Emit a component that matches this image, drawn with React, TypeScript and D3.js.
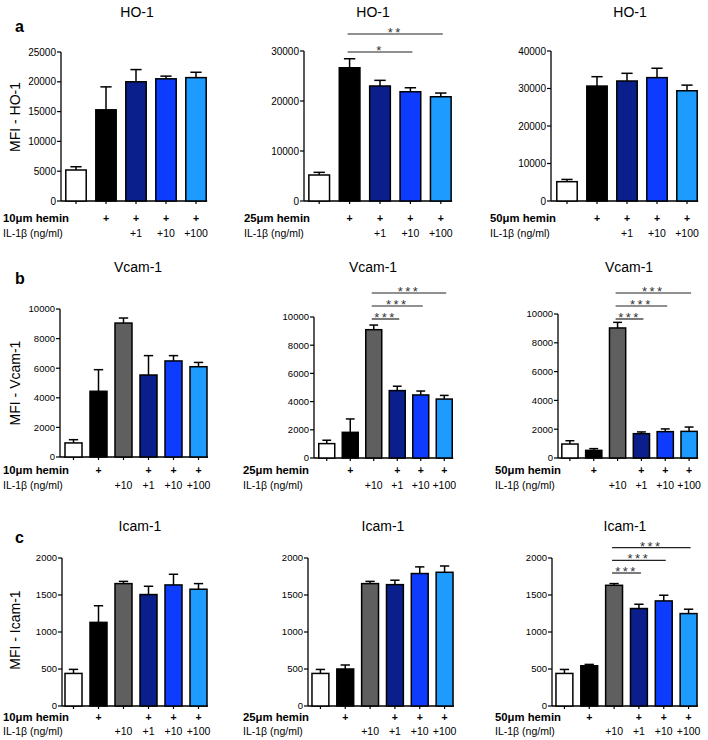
import React from "react";
import * as d3 from "d3";

const FONT = "'Liberation Sans', Arial, Helvetica, sans-serif";

// bar fills
const coloursA = ["#ffffff", "#000000", "#0b1f8c", "#0d3cff", "#1e9bff"];
const coloursBC = ["#ffffff", "#000000", "#5f5f5f", "#0b1f8c", "#0d3cff", "#1e9bff"];

// rows of "+" under the x axis
const heminRowA = ["", "+", "+", "+", "+"];
const ilRowA = ["", "", "+1", "+10", "+100"];
const heminRowBC = ["", "+", "", "+", "+", "+"];
const ilRowBC = ["", "", "+10", "+1", "+10", "+100"];

// HO-1 (mean, SEM)
const ho1_10 = [5200, 15300, 20000, 20500, 20700];
const ho1_10_err = [550, 3850, 2050, 450, 900];
const ho1_25 = [5200, 26650, 23000, 21850, 20850];
const ho1_25_err = [530, 1800, 1130, 800, 740];
const ho1_50 = [5150, 30650, 32000, 32900, 29400];
const ho1_50_err = [600, 2500, 2050, 2500, 1500];

// Vcam-1
const vcam_10 = [950, 4440, 9050, 5540, 6490, 6100];
const vcam_10_err = [220, 1460, 340, 1310, 360, 290];
const vcam_25 = [1020, 1820, 9100, 4780, 4470, 4180];
const vcam_25_err = [240, 950, 330, 310, 280, 260];
const vcam_50 = [970, 530, 9030, 1690, 1830, 1850];
const vcam_50_err = [230, 120, 390, 120, 190, 300];

// Icam-1
const icam_10 = [440, 1130, 1654, 1506, 1636, 1578];
const icam_10_err = [55, 225, 30, 112, 144, 76];
const icam_25 = [440, 500, 1654, 1640, 1790, 1807];
const icam_25_err = [54, 54, 30, 60, 90, 85];
const icam_50 = [440, 544, 1631, 1317, 1420, 1249];
const icam_50_err = [54, 18, 23, 58, 77, 59];

// significance brackets [from, to, stars]
const sigHo25 = [[1, 3, "*"], [1, 4, "**"]];
const sigThree = [[2, 3, "***"], [2, 4, "***"], [2, 5, "***"]];

const panels = [
  // row a
  { title: "HO-1", letter: "a", yLabel: "MFI - HO-1", hemin: "10μm hemin", values: ho1_10, errors: ho1_10_err,
    colours: coloursA, heminRow: heminRowA, ilRow: ilRowA, yMax: 25000, step: 5000, sig: [], tickSize: 10,
    lay: { axisX: 61, x0: 61, x1: 211, top: 52, base: 201, titleX: 137, titleY: 17, labelX: 3, heminY: 222, ilY: 237, letterY: 32, yLabelY: 117 } },
  { title: "HO-1", hemin: "25μm hemin", values: ho1_25, errors: ho1_25_err,
    colours: coloursA, heminRow: heminRowA, ilRow: ilRowA, yMax: 30000, step: 10000, sig: sigHo25, tickSize: 10,
    lay: { axisX: 304, x0: 304, x1: 456, top: 51, base: 201, titleX: 373, titleY: 17, labelX: 244, heminY: 222, ilY: 237, sigY: 52, sigStep: 18 } },
  { title: "HO-1", hemin: "50μm hemin", values: ho1_50, errors: ho1_50_err,
    colours: coloursA, heminRow: heminRowA, ilRow: ilRowA, yMax: 40000, step: 10000, sig: [], tickSize: 10,
    lay: { axisX: 551, x0: 552, x1: 702, top: 51, base: 201, titleX: 630, titleY: 17, labelX: 490, heminY: 222, ilY: 237 } },
  // row b
  { title: "Vcam-1", letter: "b", yLabel: "MFI - Vcam-1", hemin: "10μm hemin", values: vcam_10, errors: vcam_10_err,
    colours: coloursBC, heminRow: heminRowBC, ilRow: ilRowBC, yMax: 10000, step: 2000, sig: [], tickSize: 9.5,
    lay: { axisX: 60, x0: 61, x1: 211, top: 309, base: 457, titleX: 138, titleY: 272, labelX: 3, heminY: 474, ilY: 489, letterY: 284, yLabelY: 383 } },
  { title: "Vcam-1", hemin: "25μm hemin", values: vcam_25, errors: vcam_25_err,
    colours: coloursBC, heminRow: heminRowBC, ilRow: ilRowBC, yMax: 10000, step: 2000, sig: sigThree, tickSize: 9.5,
    lay: { axisX: 314, x0: 315, x1: 456, top: 317, base: 458, titleX: 373, titleY: 272, labelX: 243, heminY: 474, ilY: 489, sigY: 319, sigStep: 13 } },
  { title: "Vcam-1", hemin: "50μm hemin", values: vcam_50, errors: vcam_50_err,
    colours: coloursBC, heminRow: heminRowBC, ilRow: ilRowBC, yMax: 10000, step: 2000, sig: sigThree, tickSize: 9.5,
    lay: { axisX: 558, x0: 558, x1: 701, top: 314, base: 458, titleX: 629, titleY: 272, labelX: 495, heminY: 474, ilY: 489, sigY: 319, sigStep: 13 } },
  // row c
  { title: "Icam-1", letter: "c", yLabel: "MFI - Icam-1", hemin: "10μm hemin", values: icam_10, errors: icam_10_err,
    colours: coloursBC, heminRow: heminRowBC, ilRow: ilRowBC, yMax: 2000, step: 500, sig: [], tickSize: 9.5,
    lay: { axisX: 62, x0: 61, x1: 211, top: 558, base: 706, titleX: 140, titleY: 531, labelX: 3, heminY: 721, ilY: 735, letterY: 543, yLabelY: 630 } },
  { title: "Icam-1", hemin: "25μm hemin", values: icam_25, errors: icam_25_err,
    colours: coloursBC, heminRow: heminRowBC, ilRow: ilRowBC, yMax: 2000, step: 500, sig: [], tickSize: 9.5,
    lay: { axisX: 308, x0: 308, x1: 457, top: 558, base: 706, titleX: 383, titleY: 531, labelX: 243, heminY: 721, ilY: 735 } },
  { title: "Icam-1", hemin: "50μm hemin", values: icam_50, errors: icam_50_err,
    colours: coloursBC, heminRow: heminRowBC, ilRow: ilRowBC, yMax: 2000, step: 500, sig: sigThree, tickSize: 9.5,
    lay: { axisX: 552, x0: 552, x1: 701, top: 558, base: 706, titleX: 625, titleY: 531, labelX: 495, heminY: 721, ilY: 735, sigY: 573, sigStep: 12.7 } },
];

function Panel({ p }: { p: any }) {
  const L = p.lay;
  const n = p.values.length;
  const y = d3.scaleLinear().domain([0, p.yMax]).range([L.base, L.top]);
  const x = d3.scaleBand<number>().domain(d3.range(n)).range([L.x0, L.x1]).paddingInner(0.32).paddingOuter(0.16);
  const bw = x.bandwidth();
  const cx = (i: number) => (x(i) as number) + bw / 2;
  const ticks = d3.range(0, p.yMax + 1, p.step);
  const cap = bw * 0.55;
  const lastEnd = (x(n - 1) as number) + bw + 1;

  return (
    <g fontFamily={FONT}>
      <text x={L.titleX} y={L.titleY} textAnchor="middle" fontSize={14}>{p.title}</text>
      {p.letter && <text x={15} y={L.letterY} fontSize={16} fontWeight="bold">{p.letter}</text>}
      {p.yLabel && (
        <text transform={`translate(20,${L.yLabelY}) rotate(-90)`} textAnchor="middle" fontSize={14}>{p.yLabel}</text>
      )}

      {/* y axis */}
      <line x1={L.axisX} x2={L.axisX} y1={L.top} y2={L.base} stroke="#000" strokeWidth={1.3} />
      {ticks.map((t: number) => (
        <g key={t}>
          <line x1={L.axisX - 4} x2={L.axisX} y1={y(t)} y2={y(t)} stroke="#000" strokeWidth={1.2} />
          <text x={L.axisX - 5} y={y(t)} dy="0.36em" textAnchor="end" fontSize={p.tickSize}>{t}</text>
        </g>
      ))}

      {/* x axis */}
      <line x1={L.axisX} x2={lastEnd} y1={L.base} y2={L.base} stroke="#000" strokeWidth={1.3} />
      {p.values.map((_: number, i: number) => (
        <line key={i} x1={cx(i)} x2={cx(i)} y1={L.base} y2={L.base + 3} stroke="#000" strokeWidth={1.2} />
      ))}

      {/* bars */}
      {p.values.map((v: number, i: number) => {
        const e = y(v + p.errors[i]);
        return (
          <g key={i}>
            <line x1={cx(i)} x2={cx(i)} y1={y(v)} y2={e} stroke="#000" strokeWidth={1.5} />
            <line x1={cx(i) - cap / 2} x2={cx(i) + cap / 2} y1={e} y2={e} stroke="#000" strokeWidth={1.5} />
            <rect x={x(i)} y={y(v)} width={bw} height={L.base - y(v)} fill={p.colours[i]} stroke="#000" strokeWidth={1.5} />
          </g>
        );
      })}

      {/* significance */}
      {p.sig.map((s: any, k: number) => {
        const yy = L.sigY - k * L.sigStep;
        const xa = cx(s[0]) - 2;
        const xb = cx(s[1]) + 2;
        return (
          <g key={k}>
            <line x1={xa} x2={xb} y1={yy} y2={yy} stroke="#222" strokeWidth={1.2} />
            <text x={(xa + xb) / 2} y={yy + 3} textAnchor="middle" fontSize={13} letterSpacing={2.5} fill="#333">{s[2]}</text>
          </g>
        );
      })}

      {/* treatment rows */}
      <text x={L.labelX} y={L.heminY} fontSize={11.3} fontWeight="bold">{p.hemin}</text>
      <text x={L.labelX} y={L.ilY} fontSize={10.5}>IL-1β (ng/ml)</text>
      {p.heminRow.map((s: string, i: number) => (
        <text key={"h" + i} x={cx(i)} y={L.heminY} textAnchor="middle" fontSize={10.5} fontWeight="bold">{s}</text>
      ))}
      {p.ilRow.map((s: string, i: number) => (
        <text key={"l" + i} x={cx(i)} y={L.ilY} textAnchor="middle" fontSize={10.5}>{s}</text>
      ))}
    </g>
  );
}

export default function App() {
  return (
    <svg width={708} height={740} style={{ position: "absolute", left: 0, top: 0, background: "#fff" }}>
      <rect width={708} height={740} fill="#fff" />
      {panels.map((p, i) => (
        <Panel key={i} p={p} />
      ))}
    </svg>
  );
}
